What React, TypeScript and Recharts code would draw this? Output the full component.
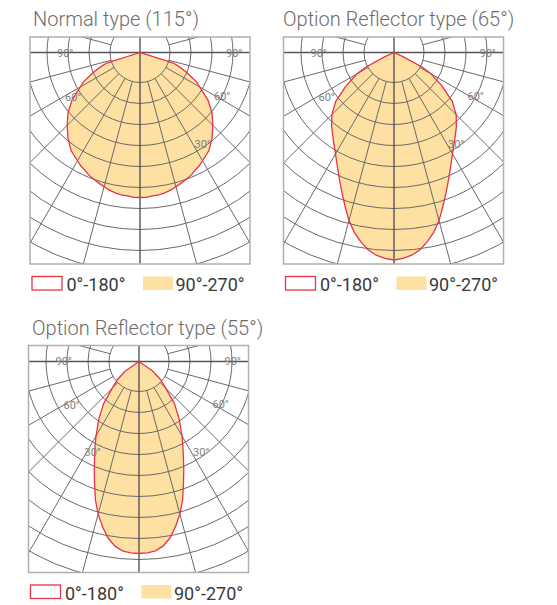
import React from 'react';
import { RadarChart, Radar, PolarGrid, PolarAngleAxis, PolarRadiusAxis } from 'recharts';

// angle from nadir (deg), one half of each curve; curves are mirrored
const gamma = [0, 2.5, 5, 7.5, 10, 12.5, 15, 17.5, 20, 22.5, 25, 27.5, 30, 35, 40, 45, 50, 55, 60, 62.5, 65, 67.5, 70, 72.5, 75, 80, 85, 90];

const normal115 = [145, 145, 144, 143.5, 142.5, 141, 139, 137, 135, 133, 130, 128, 125, 120, 112, 103, 94, 83, 69, 64, 56, 49, 42, 35, 0, 0, 0, 0];
const reflector65 = [207.5, 206, 203.5, 199, 192, 184, 174, 162, 151, 141, 132, 124, 117, 106, 97, 88, 76, 59, 43, 32, 11, 0, 0, 0, 0, 0, 0, 0];
const reflector55 = [192, 191.5, 190, 186, 179, 169, 158, 145, 130, 117, 105, 95, 86, 70, 55, 38, 28, 17, 0, 0, 0, 0, 0, 0, 0, 0, 0, 0];

// grid: rings (radius units) and spokes (deg from nadir)
const rings = [30, 51, 72, 93, 114, 135, 156, 177, 198, 219, 240];
const spokes = [15, 30, 45, 60, 75, 105];
const crossAngles = [0, 90, 180, 270];

const angleLabels = ['90°', '60°', '30°'];
const legendLabels = ['0°-180°', '90°-270°'];

const FILL = '#fde0a2';
const RED = '#e6334a';
const GRID = '#6a6a6a';
const FONT = 'Roboto, "Noto Sans", sans-serif';

const W = 220;
const H = 227;
const CX = 110;
const CY = 15.5;
const R = 260;

const toProfile = (vals: number[]) => [
  ...gamma.map((g, i) => ({ angle: -g, value: vals[i] })).reverse(),
  ...gamma.slice(1).map((g, i) => ({ angle: g, value: vals[i + 1] })),
];

// recharts angles: 0 = right, counter-clockwise; nadir = -90
const spokeAngles = spokes.flatMap((s) => [-90 + s, -90 - s]);

const Layer = ({ data, inner = 0, children }: { data: any[]; inner?: number; children: React.ReactNode }) => (
  <div style={{ position: 'absolute', left: 0, top: 0 }}>
    <RadarChart
      width={W}
      height={H}
      data={data}
      cx={CX}
      cy={CY}
      innerRadius={inner}
      outerRadius={R}
      startAngle={-270}
      endAngle={90}
      margin={{ top: 0, right: 0, bottom: 0, left: 0 }}
    >
      <PolarAngleAxis type="number" dataKey="angle" domain={[-180, 180]} tick={false} tickLine={false} axisLine={false} />
      <PolarRadiusAxis type="number" domain={[0, R]} tick={false} tickLine={false} axisLine={false} />
      {children}
    </RadarChart>
  </div>
);

const panels = [
  { title: 'Normal type (115°)', values: normal115, x: 30, y: 37, tx: 33, left30: false },
  { title: 'Option Reflector type (65°)', values: reflector65, x: 283.5, y: 37, tx: 283, left30: false },
  { title: 'Option Reflector type (55°)', values: reflector55, x: 28.5, y: 345.5, tx: 32, left30: true },
];

const Plot = ({ values, x, y }: { values: number[]; x: number; y: number }) => {
  const data = toProfile(values);
  return (
    <div style={{ position: 'absolute', left: x, top: y, width: W, height: H, overflow: 'hidden' }}>
      <Layer data={data}>
        <Radar dataKey="value" fill={FILL} fillOpacity={1} stroke="none" dot={false} isAnimationActive={false} />
      </Layer>
      <Layer data={data} inner={rings[0]}>
        <PolarGrid gridType="circle" polarAngles={spokeAngles} polarRadius={rings} stroke={GRID} strokeWidth={1} />
      </Layer>
      <Layer data={data}>
        <PolarGrid gridType="circle" polarAngles={crossAngles} polarRadius={[0]} stroke="#555" strokeWidth={1.4} />
        <Radar dataKey="value" fill="none" stroke={RED} strokeWidth={1.3} dot={false} isAnimationActive={false} />
      </Layer>
    </div>
  );
};

export default function App() {
  return (
    <div style={{ position: 'absolute', left: 0, top: 0, width: 557, height: 605, background: '#fff' }}>
      {panels.map((p) => (
        <Plot key={p.title} values={p.values} x={p.x} y={p.y} />
      ))}
      <svg width={557} height={605} style={{ position: 'absolute', left: 0, top: 0, pointerEvents: 'none' }}>
        {panels.map((p) => {
          const cx = p.x + CX;
          const cy = p.y + CY;
          const ly = p.y + H;
          const lbl = { fontFamily: FONT, fontSize: 11, fill: '#7e7e7e' };
          return (
            <g key={p.title}>
              <rect x={p.x} y={p.y} width={W} height={H} fill="none" stroke="#b0b0b0" strokeWidth={1.5} />
              <text x={p.tx} y={p.y - 11} fontFamily={FONT} fontSize={20} fontWeight={300} fill="#6c6c6c">
                {p.title}
              </text>
              <text x={cx - 83} y={cy + 4} {...lbl}>{angleLabels[0]}</text>
              <text x={cx + 86} y={cy + 4} {...lbl}>{angleLabels[0]}</text>
              <text x={cx - 75} y={cy + 48} {...lbl}>{angleLabels[1]}</text>
              <text x={cx + 74} y={cy + 47} {...lbl}>{angleLabels[1]}</text>
              <text x={cx + 54.5} y={cy + 95} {...lbl}>{angleLabels[2]}</text>
              {p.left30 && <text x={cx - 54} y={cy + 95} {...lbl}>{angleLabels[2]}</text>}
              <rect x={p.x + 2} y={ly + 12.5} width={30} height={13.5} fill="#fff" stroke={RED} strokeWidth={1.3} />
              <text x={p.x + 36.5} y={ly + 27} fontFamily={FONT} fontSize={18} fill="#3a3a3a">
                {legendLabels[0]}
              </text>
              <rect x={p.x + 113} y={ly + 12.5} width={30} height={13.5} fill={FILL} />
              <text x={p.x + 145.5} y={ly + 27} fontFamily={FONT} fontSize={18} fill="#3a3a3a">
                {legendLabels[1]}
              </text>
            </g>
          );
        })}
      </svg>
    </div>
  );
}
